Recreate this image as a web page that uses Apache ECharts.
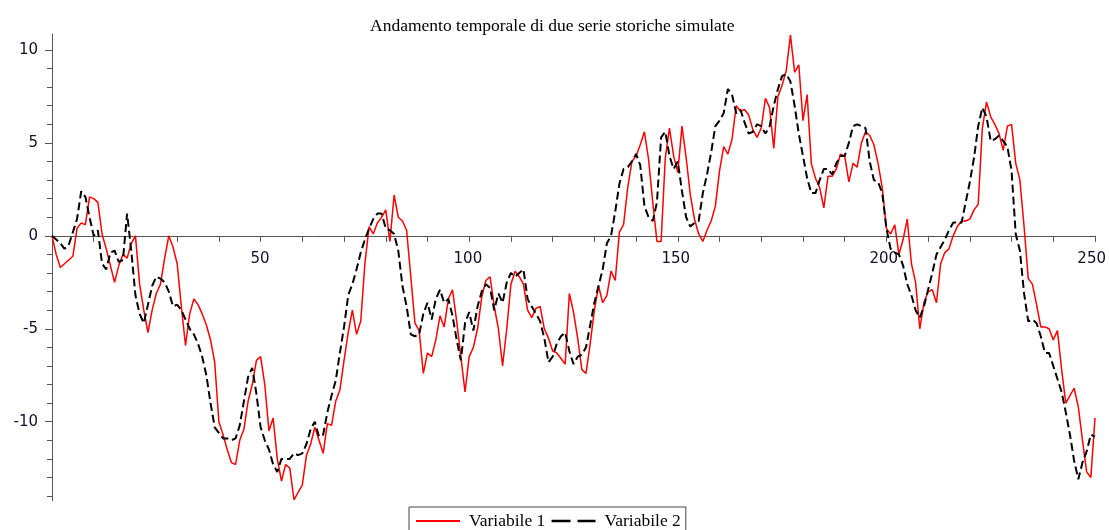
<!DOCTYPE html>
<html>
<head>
<meta charset="utf-8">
<script src="https://cdn.jsdelivr.net/npm/echarts@6/dist/echarts.min.js"></script>
<style>html,body{margin:0;padding:0;background:#fff}#c{width:1109px;height:530px}</style>
</head>
<body>
<div id="c"></div>
<script>
const titleText = 'Andamento temporale di due serie storiche simulate';
const seriesNames = ['Variabile 1', 'Variabile 2'];
const v1 = [
0, -1.0, -1.7, -1.5, -1.3, -1.1, 0.4, 0.7, 0.6, 2.1,
2.0, 1.8, 0.1, -0.7, -1.6, -2.5, -1.6, -1.0, -1.2, -0.4,
0.0, -2.6, -4.0, -5.2, -4.0, -3.1, -2.6, -1.2, 0.0, -0.6,
-1.5, -3.8, -5.9, -4.2, -3.4, -3.7, -4.2, -4.8, -5.6, -6.8,
-10.0, -10.7, -11.5, -12.2, -12.3, -11.0, -10.4, -8.9, -8.0, -6.7,
-6.5, -8.0, -10.5, -9.8, -12.0, -13.2, -12.3, -12.5, -14.2, -13.8,
-13.4, -11.8, -11.2, -10.3, -11.0, -11.7, -10.1, -10.2, -8.9, -8.3,
-6.7, -5.2, -4.0, -5.3, -4.6, -1.5, 0.5, 0.1, 0.7, 1.0,
1.4, -0.3, 2.2, 1.0, 0.8, 0.3, -2.2, -4.7, -5.1, -7.4,
-6.3, -6.5, -5.6, -4.3, -4.9, -3.4, -2.9, -4.6, -6.5, -8.4,
-6.5, -6.0, -5.0, -3.3, -2.4, -2.2, -3.8, -5.0, -7.0, -5.0,
-2.6, -1.9, -2.2, -2.6, -4.0, -4.4, -3.9, -3.8, -5.0, -5.5,
-6.2, -6.3, -6.6, -6.9, -3.1, -4.1, -5.5, -7.2, -7.4, -5.8,
-4.0, -2.7, -3.6, -3.2, -1.9, -2.4, 0.2, 0.6, 2.6, 4.0,
4.3, 4.9, 5.6, 4.1, 1.8, -0.3, -0.3, 4.2, 5.8, 4.3,
3.4, 5.9, 4.2, 2.2, 0.9, 0.1, -0.3, 0.3, 0.8, 1.6,
3.5, 4.8, 4.4, 5.2, 7.0, 6.7, 6.8, 6.5, 5.7, 5.3,
5.8, 7.4, 6.9, 4.7, 7.5, 8.1, 8.9, 10.8, 8.8, 9.2,
6.2, 7.6, 3.9, 3.1, 2.6, 1.5, 3.2, 3.2, 3.6, 4.4,
4.3, 2.9, 3.9, 3.7, 5.0, 5.6, 5.4, 4.9, 3.9, 2.6,
0.4, 0.1, 0.6, -1.0, -0.2, 0.9, -1.5, -2.5, -5.0, -3.6,
-3.0, -2.9, -3.6, -1.5, -0.9, -0.7, 0.0, 0.5, 0.8, 0.8,
0.9, 1.4, 1.7, 5.8, 7.2, 6.4, 6.0, 5.5, 4.6, 5.9,
6.0, 3.9, 3.0, 0.5, -2.3, -2.6, -3.7, -4.9, -4.9, -5.0,
-5.6, -5.1, -7.2, -9.0, -8.6, -8.2, -9.2, -11.0, -12.7, -13.0,
-9.8
];
const v2 = [
0, -0.2, -0.4, -0.7, -0.5, 0.2, 0.9, 2.4, 2.1, 1.0,
0.0, 0.3, -1.5, -1.8, -0.9, -0.8, -1.4, -1.3, 1.2, -0.8,
-3.2, -4.2, -4.7, -3.7, -2.7, -2.2, -2.3, -2.5, -3.0, -3.8,
-3.7, -4.0, -4.5, -5.0, -5.3, -5.8, -6.5, -7.5, -9.0, -10.3,
-10.6, -10.9, -10.9, -11.0, -10.9, -10.2, -8.9, -7.6, -7.1, -8.5,
-10.3, -11.0, -11.5, -12.3, -12.7, -12.0, -12.0, -12.0, -11.7, -11.8,
-11.7, -11.2, -10.4, -10.0, -10.8, -10.7, -9.5, -8.6, -7.8, -6.3,
-4.9, -3.2, -2.6, -1.8, -0.9, -0.2, 0.4, 0.9, 1.2, 1.2,
0.4, 0.3, 0.1, -0.8, -2.7, -3.8, -5.3, -5.4, -5.3, -4.2,
-3.6, -4.5, -3.4, -2.9, -3.6, -3.4, -4.3, -5.6, -6.7, -4.7,
-4.1, -5.1, -3.8, -3.0, -2.6, -2.8, -4.0, -3.1, -3.6, -2.5,
-2.0, -2.2, -2.0, -1.8, -3.4, -3.8, -4.2, -4.6, -5.5, -6.8,
-6.5, -5.8, -5.4, -5.2, -6.2, -6.9, -6.5, -6.4, -6.0, -4.8,
-3.6, -2.7, -1.8, -0.4, 0.0, 1.3, 2.8, 3.6, 3.7, 4.0,
4.4, 3.8, 1.6, 1.0, 0.8, 1.8, 5.3, 5.6, 4.3, 3.6,
4.0, 2.4, 1.0, 0.5, 0.7, 0.8, 2.3, 3.3, 4.5, 5.9,
6.2, 6.6, 7.9, 7.6, 6.6, 6.8, 6.1, 5.5, 5.6, 6.0,
5.9, 5.5, 5.9, 7.0, 7.9, 8.6, 8.7, 8.3, 7.0, 5.5,
4.3, 3.1, 2.3, 2.3, 3.0, 3.6, 3.6, 3.3, 3.9, 4.3,
4.3, 5.0, 5.9, 6.0, 5.9, 5.8, 4.0, 3.0, 2.9, 2.3,
0.4, -0.7, -0.9, -1.0, -1.6, -2.6, -3.2, -4.0, -4.4, -3.8,
-2.9, -2.0, -1.0, -0.6, -0.2, 0.3, 0.7, 0.75, 0.7, 1.8,
2.9, 4.2, 5.9, 6.9, 6.4, 5.1, 5.2, 5.4, 5.1, 4.8,
3.5, 0.1, -0.8, -3.1, -4.6, -4.5, -4.7, -5.4, -6.3, -6.3,
-7.0, -7.7, -8.4, -9.5, -10.7, -12.1, -13.1, -12.2, -11.6, -10.7,
-10.8
];
const xTickLabels = [50, 100, 150, 200, 250];
const yTickLabels = [-10, -5, 0, 5, 10];
const yMinorTicks = [-14, -13, -12, -11, -10, -9, -8, -7, -6, -5, -4, -3, -2, -1, 0, 1, 2, 3, 4, 5, 6, 7, 8, 9, 10];

const steps = v1.map((_, i) => i);
const d1 = steps.map(i => [i, v1[i]]);
const d2 = steps.map(i => [i, v2[i]]);

const serif = '"Liberation Serif", "DejaVu Serif", serif';
const sans = '"DejaVu Sans", sans-serif';
const axisCol = '#555';
const yMin = -14.25, yMax = 10.86;
const gridTop = 34, gridBottom = 29.3;

const chart = echarts.init(document.getElementById('c'), null, {renderer: 'canvas'});
const plotH = 530 - gridTop - gridBottom;
const zeroFromTop = plotH * yMax / (yMax - yMin);
const noSymbol = {color: 'rgba(0,0,0,0)', borderWidth: 0, borderColor: 'rgba(0,0,0,0)'};

chart.setOption({
  animation: false,
  backgroundColor: '#fff',
  title: {
    text: titleText, left: 365, top: 12,
    textStyle: {fontFamily: serif, fontSize: 17.5, fontWeight: 'normal', color: '#000'}
  },
  legend: {
    left: 409, top: 507,
    padding: [5, 5, 4, 6],
    itemGap: 5, itemWidth: 44, itemHeight: 14,
    borderColor: '#444', borderWidth: 1,
    textStyle: {fontFamily: serif, fontSize: 17.5, color: '#000', padding: [0, 0, 0, 4]},
    data: [
      {name: seriesNames[0], itemStyle: noSymbol, lineStyle: {color: '#ff0000', width: 2}},
      {name: seriesNames[1], itemStyle: noSymbol, lineStyle: {color: '#000', width: 2.5, type: [19, 7]}}
    ]
  },
  grid: [
    {left: 52, right: 14, top: gridTop, bottom: gridBottom, containLabel: false},
    {left: 52, right: 14, top: gridTop, height: zeroFromTop, containLabel: false}
  ],
  xAxis: [{
    type: 'value', min: 0, max: 250, interval: 10, gridIndex: 0,
    axisLine: {onZero: true, lineStyle: {color: axisCol, width: 1}},
    axisTick: {show: true, length: 6, inside: false, lineStyle: {color: axisCol}},
    axisLabel: {show: false},
    splitLine: {show: false}
  }, {
    type: 'value', min: 0, max: 250, interval: 50, gridIndex: 1, position: 'bottom',
    axisLine: {show: false, onZero: false},
    axisTick: {show: false},
    axisLabel: {
      margin: 16, fontFamily: sans, fontSize: 15, color: '#10102a',
      formatter: v => (xTickLabels.indexOf(v) >= 0 ? String(v) : '')
    },
    splitLine: {show: false}
  }],
  yAxis: [{
    type: 'value', min: yMin, max: yMax, gridIndex: 0,
    axisLine: {show: true, onZero: false, lineStyle: {color: axisCol, width: 1}},
    axisTick: {show: true, length: 5, customValues: yMinorTicks, lineStyle: {color: axisCol}},
    axisLabel: {margin: 14, fontFamily: sans, fontSize: 15, color: '#10102a', customValues: yTickLabels},
    splitLine: {show: false}
  }, {
    type: 'value', min: yMin, max: yMax, position: 'left', gridIndex: 0,
    axisLine: {show: false},
    axisTick: {show: true, length: 7, customValues: yTickLabels, lineStyle: {color: axisCol}},
    axisLabel: {show: false},
    splitLine: {show: false}
  }, {
    type: 'value', min: 0, max: 1, gridIndex: 1, show: false
  }],
  series: [
    {name: seriesNames[0], type: 'line', data: d1, xAxisIndex: 0, yAxisIndex: 0, showSymbol: false, symbol: 'none',
     lineStyle: {color: '#ff0000', width: 1.5}, itemStyle: {color: '#ff0000'}, z: 2},
    {name: seriesNames[1], type: 'line', data: d2, xAxisIndex: 0, yAxisIndex: 0, showSymbol: false, symbol: 'none',
     lineStyle: {color: '#000', width: 2, type: [8, 4]}, itemStyle: {color: '#000'}, z: 3}
  ]
});
</script>
</body>
</html>
